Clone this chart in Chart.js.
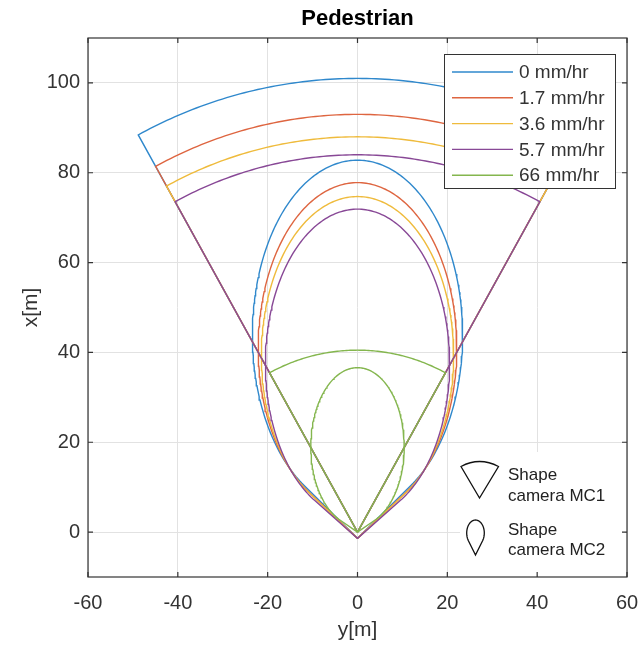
<!DOCTYPE html>
<html>
<head>
<meta charset="utf-8">
<title>Pedestrian</title>
<script src="https://cdn.jsdelivr.net/npm/chart.js@4.4.1/dist/chart.umd.min.js"></script>
<style>
    html, body { margin: 0; padding: 0; background: #fff; }
    #wrap { width: 641px; height: 645px; }
</style>
</head>
<body>
<div id="wrap"><canvas id="pedChart" width="641" height="645"></canvas></div>
<script>
// rain rates, one colour per rate
const rainLabels = ['0 mm/hr', '1.7 mm/hr', '3.6 mm/hr', '5.7 mm/hr', '66 mm/hr'];
const rainColors = ['#2f88cc', '#de6540', '#efbb3c', '#884896', '#84b64e'];

// camera MC1 (sector): range [m] per rain rate, half opening angle [deg]
const mc1Range = [101, 93, 88, 84, 40.5];
const mc1HalfAngle = 28.9;

// camera MC2 (egg shape): top, half width, centre height, apex height [m]
const mc2Top       = [82.8, 77.8, 74.7, 71.9, 36.6];
const mc2HalfWidth = [23.4, 22.1, 21.4, 20.5, 10.4];
const mc2Centre    = [43.9, 41.0, 39.3, 37.5, 19.0];
const mc2Apex      = [-1.4, -1.4, -1.4, -1.4, 0];

const xTicks = [-60, -40, -20, 0, 20, 40, 60];
const yTicks = [0, 20, 40, 60, 80, 100];

const FONT = "'Liberation Sans', Arial, Helvetica, sans-serif";
const TEXT = '#333333';

function sectorPoints(r) {
    const a = mc1HalfAngle * Math.PI / 180;
    const pts = [{ x: 0, y: 0 }];
    for (let i = 0; i <= 100; i++) {
        const t = -a + 2 * a * i / 100;
        pts.push({ x: r * Math.sin(t), y: r * Math.cos(t) });
    }
    pts.push({ x: 0, y: 0 });
    return pts;
}

// ellipse top part, closed by the two tangents from the apex
function eggPoints(k) {
    const a = mc2HalfWidth[k], c = mc2Centre[k], b = mc2Top[k] - c, p = mc2Apex[k];
    const f0 = Math.acos(b / (c - p));
    const pts = [{ x: 0, y: p }];
    for (let i = 0; i <= 240; i++) {
        const f = f0 + (2 * Math.PI - 2 * f0) * i / 240;
        pts.push({ x: -a * Math.sin(f), y: c - b * Math.cos(f) });
    }
    pts.push({ x: 0, y: p });
    return pts;
}

const datasets = [];
rainLabels.forEach((lab, k) => {
    const common = {
        label: lab,
        borderColor: rainColors[k],
        backgroundColor: rainColors[k],
        borderWidth: 1.4,
        showLine: true,
        fill: false,
        pointRadius: 0,
        tension: 0
    };
    datasets.push({ ...common, data: sectorPoints(mc1Range[k]), order: 10 - 2 * k });
    datasets.push({ ...common, data: eggPoints(k), order: 9 - 2 * k });
});

// white patch behind the shape notes
const notePatch = {
    id: 'notePatch',
    beforeDatasetsDraw(chart) {
        const { ctx, chartArea } = chart;
        ctx.save();
        ctx.fillStyle = '#fff';
        ctx.fillRect(chartArea.right - 167, chartArea.bottom - 125, 165, 123);
        ctx.restore();
    }
};

// box around the axes with inward ticks (matlab style), title over the axes
const axesBox = {
    id: 'axesBox',
    afterDatasetsDraw(chart) {
        const { ctx, chartArea: ca, scales } = chart;
        ctx.save();
        ctx.strokeStyle = '#333';
        ctx.lineWidth = 1.2;
        ctx.strokeRect(ca.left, ca.top, ca.right - ca.left, ca.bottom - ca.top);
        ctx.beginPath();
        xTicks.forEach(v => {
            const px = scales.x.getPixelForValue(v);
            ctx.moveTo(px, ca.bottom); ctx.lineTo(px, ca.bottom - 5);
            ctx.moveTo(px, ca.top);    ctx.lineTo(px, ca.top + 5);
        });
        yTicks.forEach(v => {
            const py = scales.y.getPixelForValue(v);
            ctx.moveTo(ca.left, py);  ctx.lineTo(ca.left + 5, py);
            ctx.moveTo(ca.right, py); ctx.lineTo(ca.right - 5, py);
        });
        ctx.stroke();

        ctx.fillStyle = '#000';
        ctx.font = 'bold 22px ' + FONT;
        ctx.textAlign = 'center';
        ctx.textBaseline = 'middle';
        ctx.fillText('Pedestrian', (ca.left + ca.right) / 2, ca.top - 19);
        ctx.restore();
    }
};

const legendBox = {
    id: 'legendBox',
    afterDraw(chart) {
        const { ctx, chartArea: ca } = chart;
        const w = 171, h = 134;
        const left = ca.right - 12 - w, top = ca.top + 16;
        ctx.save();
        ctx.fillStyle = '#fff';
        ctx.fillRect(left, top, w, h);
        ctx.strokeStyle = '#333';
        ctx.lineWidth = 1;
        ctx.strokeRect(left + 0.5, top + 0.5, w, h);
        ctx.font = '19px ' + FONT;
        ctx.textBaseline = 'middle';
        ctx.fillStyle = TEXT;
        rainLabels.forEach((lab, k) => {
            const y = top + 18 + k * 25.8;
            ctx.strokeStyle = rainColors[k];
            ctx.lineWidth = 1.4;
            ctx.beginPath();
            ctx.moveTo(left + 8, y);
            ctx.lineTo(left + 69, y);
            ctx.stroke();
            ctx.fillText(lab, left + 75, y + 1);
        });

        // shape notes, bottom right
        const nx = ca.right - 167, ny = ca.bottom - 125;
        ctx.strokeStyle = '#111';
        ctx.lineWidth = 1.3;
        ctx.beginPath();
        ctx.moveTo(nx + 19.5, ny + 46);
        ctx.lineTo(nx + 1, ny + 14.5);
        ctx.quadraticCurveTo(nx + 19.5, ny + 4.5, nx + 38.5, ny + 14.5);
        ctx.closePath();
        ctx.stroke();

        const cx = nx + 15.5, cy = ny + 81, rx = 8.8, ry = 13, tipY = ny + 103;
        const f0 = Math.acos(ry / (tipY - cy));
        ctx.beginPath();
        ctx.moveTo(cx, tipY);
        for (let i = 0; i <= 60; i++) {
            const f = f0 + (2 * Math.PI - 2 * f0) * i / 60;
            ctx.lineTo(cx + rx * Math.sin(f), cy + ry * Math.cos(f));
        }
        ctx.closePath();
        ctx.stroke();

        ctx.font = '17px ' + FONT;
        ctx.fillStyle = '#222';
        ctx.fillText('Shape', nx + 48, ny + 23);
        ctx.fillText('camera MC1', nx + 48, ny + 44.5);
        ctx.fillText('Shape', nx + 48, ny + 78);
        ctx.fillText('camera MC2', nx + 48, ny + 98);
        ctx.restore();
    }
};

const el = document.getElementById('pedChart');
const chart = new Chart(el.getContext('2d'), {
    type: 'scatter',
    data: { datasets: datasets },
    options: {
        responsive: false,
        animation: false,
        events: [],
        layout: { padding: { left: 0, right: 14, top: 38, bottom: 0 } },
        plugins: {
            legend: { display: false },
            tooltip: { enabled: false },
            title: { display: false }
        },
        scales: {
            x: {
                type: 'linear',
                min: -60,
                max: 60,
                afterBuildTicks: s => { s.ticks = xTicks.map(v => ({ value: v })); },
                afterFit: s => { s.height = 68; s.paddingLeft = 0; s.paddingRight = 0; },
                grid: { color: '#e2e2e2', drawTicks: false },
                border: { display: false },
                ticks: { color: TEXT, font: { family: FONT, size: 20 }, padding: 14, maxRotation: 0, autoSkip: false },
                title: { display: true, text: 'y[m]', color: TEXT, font: { family: FONT, size: 21 }, padding: { top: 0, bottom: 2 } }
            },
            y: {
                type: 'linear',
                min: -10,
                max: 110,
                afterBuildTicks: s => { s.ticks = yTicks.map(v => ({ value: v })); },
                afterFit: s => { s.width = 88; s.paddingTop = 0; s.paddingBottom = 0; },
                grid: { color: '#e2e2e2', drawTicks: false },
                border: { display: false },
                ticks: { color: TEXT, font: { family: FONT, size: 20 }, padding: 8, autoSkip: false },
                title: { display: true, text: 'x[m]', color: TEXT, font: { family: FONT, size: 21 }, padding: { top: 19, bottom: 0 } }
            }
        }
    },
    plugins: [notePatch, axesBox, legendBox]
});
</script>
</body>
</html>
